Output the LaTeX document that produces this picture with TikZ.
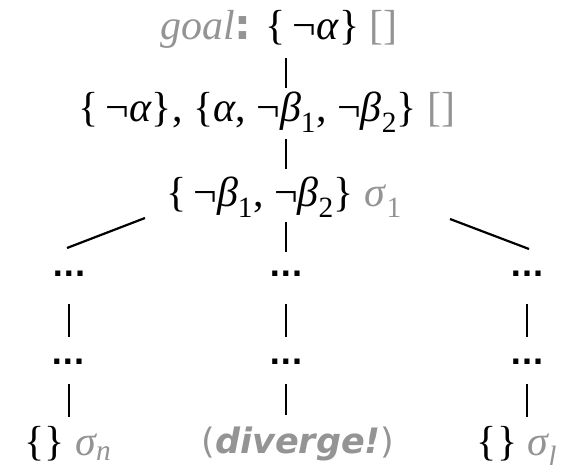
\documentclass[tikz,border=0pt]{standalone}
\usepackage{fontspec}
\setmainfont{Liberation Serif}
\setsansfont{DejaVu Sans}
\definecolor{note}{gray}{0.58}
\newcommand{\gm}[1]{{\color{note}#1}}
\newcommand{\low}[1]{\textsubscript{#1}}
\begin{document}
\begin{tikzpicture}[x=1pt, y=-1pt,
  txt/.style={inner sep=0pt, anchor=base, font=\fontsize{42}{48}\selectfont},
  dts/.style={inner sep=0pt, anchor=base, font=\fontsize{29}{34}\sffamily\bfseries},
  link/.style={line width=2.2pt}]
\useasboundingbox (0,0) rectangle (568,465);
% derivation
\node[txt] (goal) at (279,40) {\gm{\textit{goal}{\sffamily\bfseries:}} \{\,¬\textit{α}\} \gm{[]}};
\node[txt] (res1) at (267,122) {\{\,¬\textit{α}\}, \{\textit{α}, ¬\textit{β}\low{1}, ¬\textit{β}\low{2}\} \gm{[]}};
\node[txt] (res2) at (284,207) {\{\,¬\textit{β}\low{1}, ¬\textit{β}\low{2}\} \gm{\textit{σ}\low{1}}};
% three branches
\node[dts] (l1) at (69,277) {...};
\node[dts] (l2) at (68,364) {...};
\node[txt] (l3) at (68,455) {\{\} \gm{\textit{σ\low{n}}}};
\node[dts] (m1) at (286,277) {...};
\node[dts] (m2) at (286,364) {...};
\node[txt, font=\fontsize{35}{40}\selectfont] (m3) at (298,453) {\gm{{\sffamily(\textbf{\textit{diverge!}})}}};
\node[dts] (r1) at (527,277) {...};
\node[dts] (r2) at (527,364) {...};
\node[txt] (r3) at (517,455) {\{\} \gm{\textit{σ\low{l}}}};
\draw[link, shorten <=18pt, shorten >=34pt] (m1 |- goal.base) -- (m1 |- res1.base);
\draw[link, shorten <=17pt, shorten >=38pt] (m1 |- res1.base) -- (m1 |- res2.base);
\draw[link, shorten <=15pt, shorten >=25pt] (m1 |- res2.base) -- (m1.base);
\draw[link, shorten <=27pt, shorten >=27pt] (m1.base) -- (m2.base);
\draw[link, shorten <=20pt, shorten >=38pt] (m2.base) -- (m2 |- m3.base);
\draw[link, shorten <=27pt, shorten >=27pt] (l1.base) -- (l1 |- l2.base);
\draw[link, shorten <=20pt, shorten >=38pt] (l1 |- l2.base) -- (l1 |- l3.base);
\draw[link, shorten <=27pt, shorten >=27pt] (r1.base) -- (r2.base);
\draw[link, shorten <=20pt, shorten >=38pt] (r2.base) -- (r2 |- r3.base);
\draw[link] ([shift={(-139pt,-11pt)}]res2.base) -- ([shift={(-2pt,29pt)}]l1.base);
\draw[link] ([shift={(166pt,-12pt)}]res2.base) -- ([shift={(2pt,28pt)}]r1.base);
\end{tikzpicture}
\end{document}
